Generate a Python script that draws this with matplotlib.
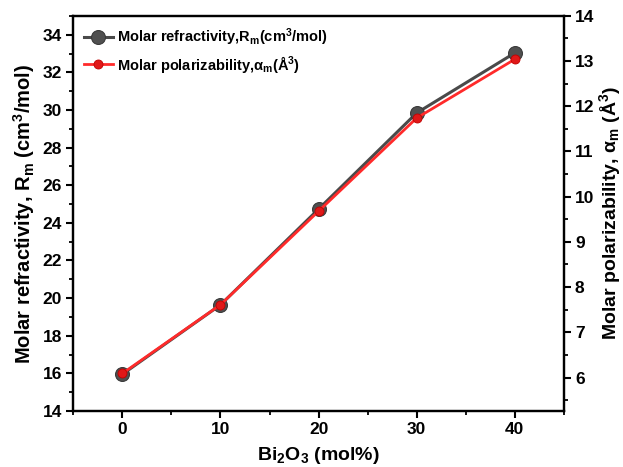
import numpy as np
import matplotlib
matplotlib.use("Agg")
import matplotlib.pyplot as plt
from matplotlib.ticker import MultipleLocator

plt.rcParams["font.family"] = ["Liberation Sans", "DejaVu Sans"]
plt.rcParams["font.weight"] = "bold"
plt.rcParams["mathtext.fontset"] = "custom"
plt.rcParams["mathtext.rm"] = "Liberation Sans:bold"
plt.rcParams["mathtext.it"] = "Liberation Sans:bold"
plt.rcParams["mathtext.bf"] = "Liberation Sans:bold"
plt.rcParams["mathtext.default"] = "bf"

# Bi2O3 content and the two optical quantities
bi2o3 = [0, 10, 20, 30, 40]
molar_refr = [15.95, 19.64, 24.73, 29.84, 33.03]
molar_pol = [6.09, 7.61, 9.68, 11.74, 13.04]

GREY = "#4a4a4a"
RED = "#ff2a2a"

fig = plt.figure(figsize=(6.23, 4.67), dpi=100)
ax = fig.add_axes([0.1177, 0.12, 0.7873, 0.846])
ax2 = ax.twinx()

l1, = ax.plot(bi2o3, molar_refr, color=GREY, lw=2.2, marker="o", ms=10,
              mfc="#505050", mec="#3a3a3a", mew=0.8,
              label="Molar refractivity,R$_m$(cm$^3$/mol)")
l2, = ax2.plot(bi2o3, molar_pol, color=RED, lw=2.0, marker="o", ms=6.5,
               mfc="#e01818", mec="#c00000", mew=0.6,
               label="Molar polarizability,$\\alpha_m$(Å$^3$)")

ax.set_xlim(-5, 45)
ax.set_ylim(14, 35)
ax2.set_ylim(5.26, 14)

ax.xaxis.set_major_locator(MultipleLocator(10))
ax.xaxis.set_minor_locator(MultipleLocator(5))
ax.yaxis.set_major_locator(MultipleLocator(2))
ax.yaxis.set_minor_locator(MultipleLocator(1))
ax2.yaxis.set_major_locator(MultipleLocator(1))
ax2.yaxis.set_minor_locator(MultipleLocator(0.5))

for a in (ax, ax2):
    for s in a.spines.values():
        s.set_linewidth(1.6)
    a.tick_params(which="major", length=5, width=1.5, labelsize=12.5,
                  direction="out", pad=3)
    a.tick_params(which="minor", length=3, width=1.3, direction="out")

ax.set_xlabel("Bi$_2$O$_3$ (mol%)", fontsize=14, fontweight="bold",
              labelpad=6)
ax.set_ylabel("Molar refractivity, R$_m$ (cm$^3$/mol)", fontsize=14.5,
              fontweight="bold", labelpad=4)
ax2.set_ylabel("Molar polarizability, $\\alpha_m$ (Å$^3$)", fontsize=14,
               fontweight="bold", labelpad=2)

ax.legend(handles=[l1, l2], loc="upper left", frameon=False, fontsize=10.5,
          handlelength=2.0, handletextpad=0.3, borderaxespad=0.3,
          labelspacing=0.4)

fig.savefig("out.png", dpi=100, facecolor="white")
